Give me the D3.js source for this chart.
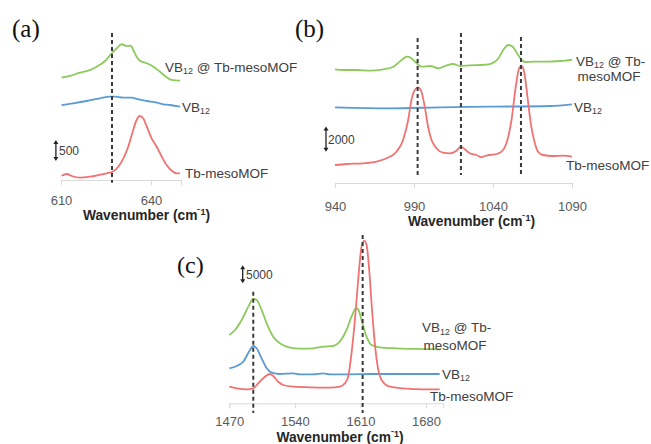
<!DOCTYPE html>
<html>
<head>
<meta charset="utf-8">
<script src="https://cdn.jsdelivr.net/npm/d3@7"></script>
<style>
  html, body { margin: 0; padding: 0; background: #ffffff; }
  svg { display: block; }
</style>
</head>
<body>
<svg id="chart" width="651" height="444"></svg>
<script>
// ---------------- DATA ----------------
// Panel (a): 610-650 cm-1, stacked spectra (offsets included), intensity units
const aTicks = [610, 640];
const aMarkers = [627];
const aGreen = [[610.2,2693],[613,2737],[616.3,2824],[619.1,2877],[621.9,2982],[624.7,3132],[626.9,3335],[628.6,3466],[630.2,3572],[631.9,3527],[633.3,3535],[634.1,3422],[635.2,3245],[636.3,3140],[638.6,3072],[640.8,2982],[643,2850],[645.2,2703],[646.9,2632],[649.7,2614]];
const aBlue = [[610.2,1974],[614.1,2019],[618.6,2079],[623,2150],[626.3,2192],[628,2192],[630.8,2166],[633.6,2166],[635.2,2132],[638.6,2079],[641.9,2035],[644.1,1992],[646.3,1974],[649.7,1929]];
const aRed = [[610.2,113],[611.9,158],[613.6,105],[616.3,61],[619.7,87],[623,139],[625.2,176],[627.2,218],[629.1,350],[630.8,571],[632.4,876],[633.9,1271],[635.2,1579],[636.3,1684],[637.4,1624],[638.6,1403],[640.2,1098],[641.9,876],[643.6,613],[645.2,395],[646.9,245],[648.6,176],[649.7,176]];
const aScale = {wn: 608.3, from: 500, to: 1050, label: "500"};

// Panel (b): 940-1090 cm-1
const bTicks = [940, 990, 1040, 1090];
const bMarkers = [992.3, 1019.7, 1057.7];
const bGreen = [[940,9854],[945.3,9794],[953.7,9794],[962.2,9733],[970.6,9854],[977,10080],[982.2,10660],[985.4,10947],[987.5,10894],[990.7,10513],[994.9,10080],[1000.3,10140],[1005.5,9941],[1010.7,10201],[1014.9,10313],[1019.1,10140],[1025.4,10201],[1032.8,10227],[1038.1,10313],[1043.4,10807],[1046.5,11527],[1049.7,11960],[1052.5,11813],[1055,11293],[1058.2,10660],[1060.3,10487],[1065.5,10513],[1074,10513],[1082.4,10573],[1088.8,10660],[1090,10720]];
const bBlue = [[940,6561],[974.8,6474],[1006.5,6561],[1038.1,6613],[1076,6673],[1090,6821]];
const bRed = [[940,1560],[947.4,1647],[957.8,1707],[966.3,1846],[972.6,2141],[978.9,2713],[983.1,3727],[986.3,5460],[988.4,7193],[990.5,8060],[992.6,8294],[994.7,7913],[996.8,6613],[998.9,4879],[1001.1,3727],[1004.2,3007],[1008.4,2626],[1012.7,2574],[1016.9,2799],[1019.6,3146],[1022.2,2921],[1025.3,2574],[1029.5,2427],[1032.7,2227],[1034.8,2340],[1038,2427],[1042.2,2513],[1045.4,2713],[1048.5,3441],[1051.7,5460],[1054.4,8346],[1056.5,9941],[1058,10140],[1059.7,9646],[1061.8,7480],[1063.9,5174],[1066.5,3441],[1068.5,2713],[1071.7,2427],[1078,2340],[1084.4,2366],[1090,2279]];
const bScale = {wn: 934.3, from: 2700, to: 4900, label: "2000"};

// Panel (c): 1470-1700 cm-1
const cTicks = [1470, 1540, 1610, 1680];
const cMarkers = [1495.6, 1612.4];
const cGreen = [[1470,18990],[1476.1,20380],[1483.2,23160],[1490.3,26860],[1495.6,29000],[1499.2,28720],[1504.5,25940],[1509.9,22240],[1516.9,18520],[1524,16680],[1531.2,15740],[1540,15290],[1548.9,15180],[1559.6,15290],[1570.2,15740],[1580.9,15930],[1588,17130],[1595.2,20380],[1600.5,24080],[1605.1,26410],[1607.5,26130],[1611.2,23160],[1616.5,18520],[1621.8,16210],[1630.7,15570],[1648.5,15290],[1669.8,15100],[1694.6,15010]];
const cBlue = [[1470,9730],[1477.9,10370],[1484.9,11560],[1492.1,14820],[1495.6,15930],[1499.2,15290],[1504.5,12510],[1509.9,9730],[1515.2,8510],[1524,8150],[1538.2,8340],[1545.4,8060],[1559.6,8060],[1570.2,8340],[1577.4,8060],[1598.7,8060],[1620,8150],[1655.5,8150],[1694.6,8150]];
const cRed = [[1470,4610],[1477.9,4170],[1488.6,3890],[1495.6,4170],[1500.9,5560],[1508.1,7390],[1513.4,8150],[1516.9,7590],[1522.3,6000],[1527.6,5090],[1538.2,4610],[1556,4450],[1577.4,4340],[1588,4610],[1593.4,5560],[1596.9,7390],[1600.5,13900],[1604.1,23160],[1607.6,34280],[1611.2,43530],[1614,45200],[1616.6,44010],[1619.4,37060],[1621.9,27800],[1624.7,18510],[1627.9,11120],[1632.6,6480],[1641.5,4610],[1655.5,4170],[1676.8,3890],[1694.6,3890]];
const cScale = {wn: 1484.3, from: 33400, to: 38400, label: "5000"};

const seriesNames = ["VB12 @ Tb-mesoMOF", "VB12", "Tb-mesoMOF"];
const seriesColors = ["#8dca5c", "#5b9bd5", "#f07272"];
const axisTitle = "Wavenumber (cm";

// ---------------- LAYOUT ----------------
const panels = [
  { title: "(a)", titlePos: [12, 37], titleSize: 25,
    xDomain: [610, 650], xRange: [61, 181], yDomain: [0, 4000], yRange: [180, 28],
    ticks: aTicks, tickLabelY: 204.5, axisTitlePos: [146.5, 219.5],
    series: [aGreen, aBlue, aRed], markers: aMarkers, markerTop: [3869], markerBottom: -70,
    scale: aScale, scaleTextX: 59,
    labels: [ {s:0, lines:["VB12 @ Tb-mesoMOF"], x:165, y:[71.5]},
              {s:1, lines:["VB12"], x:182, y:[111.5]},
              {s:2, lines:["Tb-mesoMOF"], x:185, y:[177.5]} ] },
  { title: "(b)", titlePos: [295, 37], titleSize: 25,
    xDomain: [940, 1090], xRange: [335, 572], yDomain: [0, 13000], yRange: [183, 33],
    ticks: bTicks, tickLabelY: 211, axisTitlePos: [471.5, 225.5],
    series: [bGreen, bBlue, bRed], markers: bMarkers, markerTop: [12567, 13000, 12654], markerBottom: 693,
    scale: bScale, scaleTextX: 328,
    labels: [ {s:0, lines:["VB12 @ Tb-", "mesoMOF"], x:576, y:[65.5, 81]},
              {s:1, lines:["VB12"], x:574, y:[111.5]},
              {s:2, lines:["Tb-mesoMOF"], x:566, y:[169.5]} ] },
  { title: "(c)", titlePos: [177, 273], titleSize: 24,
    xDomain: [1470, 1698.5], xRange: [229.3, 443.3], yDomain: [0, 48000], yRange: [403.3, 230.6],
    ticks: cTicks, tickLabelY: 425.5, axisTitlePos: [340, 441.5],
    series: [cGreen, cBlue, cRed], markers: cMarkers, markerTop: [31025, 46790], markerBottom: -2700,
    scale: cScale, scaleTextX: 246,
    labels: [ {s:0, lines:["VB12 @ Tb-", "mesoMOF"], x:422, y:[332, 350]},
              {s:1, lines:["VB12"], x:442, y:[378.5]},
              {s:2, lines:["Tb-mesoMOF"], x:430, y:[401]} ] }
];

// ---------------- DRAW ----------------
const svg = d3.select("#chart");
svg.append("rect").attr("width", 651).attr("height", 444).attr("fill", "#ffffff");

const labelFont = "'Liberation Sans', Arial, sans-serif";

function addLabelText(g, text, x, y, size, color) {
  const t = g.append("text").attr("x", x).attr("y", y)
    .attr("font-family", labelFont).attr("font-size", size).attr("fill", color);
  // render "VB12" with subscript 12
  const parts = text.split("VB12");
  parts.forEach((p, i) => {
    if (i > 0) {
      t.append("tspan").text("VB");
      t.append("tspan").attr("font-size", size * 0.66).attr("dy", 2.5).text("12");
      t.append("tspan").attr("dy", -2.5).text(p);
    } else if (p.length) {
      t.append("tspan").text(p);
    }
  });
}

panels.forEach(p => {
  const g = svg.append("g");
  const x = d3.scaleLinear().domain(p.xDomain).range(p.xRange);
  const y = d3.scaleLinear().domain(p.yDomain).range(p.yRange);

  // axis
  const axis = d3.axisBottom(x).tickValues(p.ticks).tickSize(5).tickFormat(d3.format("d"));
  const ag = g.append("g").attr("transform", `translate(0,${p.yRange[0]})`).call(axis);
  ag.select(".domain").attr("stroke", "#d9d9d9").attr("stroke-width", 1);
  ag.selectAll(".tick line").attr("stroke", "#d9d9d9");
  ag.selectAll(".tick text").attr("fill", "#595959").attr("font-size", 13)
    .attr("font-family", labelFont).attr("y", 0).attr("dy", 0)
    .attr("transform", `translate(0,${p.tickLabelY - p.yRange[0]})`);

  // axis title
  const at = g.append("text").attr("x", p.axisTitlePos[0]).attr("y", p.axisTitlePos[1])
    .attr("text-anchor", "middle").attr("font-family", labelFont)
    .attr("font-weight", "bold").attr("font-size", 13.8).attr("fill", "#262626");
  at.append("tspan").text(axisTitle);
  at.append("tspan").attr("font-size", 9).attr("dy", -5).text("\u207B1");
  at.append("tspan").attr("dy", 5).text(")");

  // spectra
  const line = d3.line().x(d => x(d[0])).y(d => y(d[1])).curve(d3.curveMonotoneX);
  p.series.forEach((s, i) => {
    g.append("path").datum(s).attr("d", line)
      .attr("fill", "none").attr("stroke", seriesColors[i])
      .attr("stroke-width", 1.8).attr("stroke-linejoin", "round");
  });

  // dashed markers
  p.markers.forEach((m, i) => {
    g.append("line")
      .attr("x1", x(m)).attr("x2", x(m))
      .attr("y1", y(p.markerTop[i])).attr("y2", y(p.markerBottom))
      .attr("stroke", "#3a3a3a").attr("stroke-width", 2)
      .attr("stroke-dasharray", "4,3");
  });

  // scale bar (double arrow)
  const sx = x(p.scale.wn), sy1 = y(p.scale.to), sy2 = y(p.scale.from);
  g.append("line").attr("x1", sx).attr("x2", sx).attr("y1", sy1 + 3).attr("y2", sy2 - 3)
    .attr("stroke", "#222").attr("stroke-width", 1.3);
  g.append("path").attr("d", `M${sx},${sy1} l-2.5,4 l5,0 z`).attr("fill", "#222");
  g.append("path").attr("d", `M${sx},${sy2} l-2.5,-4 l5,0 z`).attr("fill", "#222");
  g.append("text").attr("x", p.scaleTextX).attr("y", (sy1 + sy2) / 2 + 4.5)
    .attr("font-family", labelFont).attr("font-size", 12).attr("fill", "#404040")
    .text(p.scale.label);

  // series labels
  p.labels.forEach(l => {
    l.lines.forEach((ln, k) => {
      addLabelText(g, ln, k === 0 ? l.x : l.x + 1.5, l.y[k], 13.5, "#404040");
    });
  });

  // panel title
  g.append("text").attr("x", p.titlePos[0]).attr("y", p.titlePos[1])
    .attr("font-family", "'Liberation Serif', 'Times New Roman', serif")
    .attr("font-size", p.titleSize).attr("fill", "#111").text(p.title);
});
</script>
</body>
</html>
